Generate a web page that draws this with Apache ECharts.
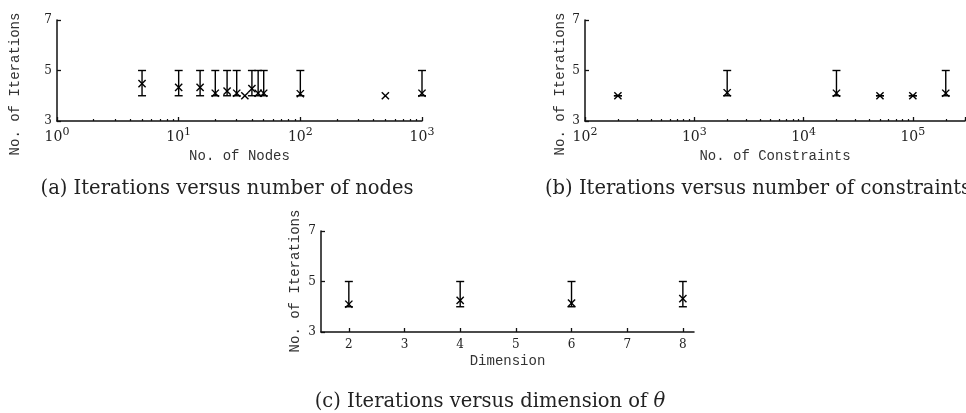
<!DOCTYPE html>
<html>
<head>
<meta charset="utf-8">
<script src="https://cdn.jsdelivr.net/npm/echarts@6/dist/echarts.min.js"></script>
<style>
html, body { margin: 0; padding: 0; background: #fff; }
#chart { width: 966px; height: 413px; }
</style>
</head>
<body>
<div id="chart"></div>
<script>
// (a) iterations vs number of nodes
var nodes     = [5, 10, 15, 20, 25, 30, 35, 40, 45, 50, 100, 500, 1000];
var nodesMean = [4.48, 4.33, 4.33, 4.1, 4.18, 4.1, 4.0, 4.28, 4.1, 4.1, 4.08, 4.0, 4.1];
var nodesLow  = [4, 4, 4, 4, 4, 4, 4, 4, 4, 4, 4, 4, 4];
var nodesHigh = [5, 5, 5, 5, 5, 5, 4, 5, 5, 5, 5, 4, 5];
// (b) iterations vs number of constraints
var constraints = [200, 2000, 20000, 50000, 100000, 200000];
var consMean    = [4.0, 4.12, 4.1, 4.0, 4.0, 4.1];
var consLow     = [4, 4, 4, 4, 4, 4];
var consHigh    = [4, 5, 5, 4, 4, 5];
// (c) iterations vs dimension of theta
var dims    = [2, 4, 6, 8];
var dimMean = [4.1, 4.25, 4.14, 4.32];
var dimLow  = [4, 4, 4, 4];
var dimHigh = [5, 5, 5, 5];
// ticks
var iterTicks = [3, 5, 7];
var dimTicks = [2, 3, 4, 5, 6, 7, 8];
var minorMult = [2, 3, 4, 5, 6, 7, 8, 9];

var serif = 'DejaVu Serif';
var mono = 'Liberation Mono';
var ink = '#111';

function minorTicks(fromExp, toExp, max) {
    var out = [];
    for (var e = fromExp; e < toExp; e++) {
        minorMult.forEach(function (m) {
            var v = m * Math.pow(10, e);
            if (v <= max) out.push(v);
        });
    }
    return out;
}

function errData(xs, mean, lo, hi) {
    return xs.map(function (x, i) { return [x, mean[i], lo[i], hi[i]]; });
}

// error bar + x marker
function errRenderer(capsOnZero) {
    return function (params, api) {
        var x = api.value(0);
        var pM = api.coord([x, api.value(1)]);
        var pLo = api.coord([x, api.value(2)]);
        var pHi = api.coord([x, api.value(3)]);
        var st = { stroke: '#000', lineWidth: 1.4 };
        var c = 4, s = 3.6;
        var kids = [];
        if (api.value(3) > api.value(2) || capsOnZero) {
            kids.push({ type: 'line', shape: { x1: pLo[0], y1: pLo[1], x2: pHi[0], y2: pHi[1] }, style: st });
            kids.push({ type: 'line', shape: { x1: pLo[0] - c, y1: pLo[1], x2: pLo[0] + c, y2: pLo[1] }, style: st });
            kids.push({ type: 'line', shape: { x1: pHi[0] - c, y1: pHi[1], x2: pHi[0] + c, y2: pHi[1] }, style: st });
        }
        kids.push({ type: 'line', shape: { x1: pM[0] - s, y1: pM[1] - s, x2: pM[0] + s, y2: pM[1] + s }, style: st });
        kids.push({ type: 'line', shape: { x1: pM[0] - s, y1: pM[1] + s, x2: pM[0] + s, y2: pM[1] - s }, style: st });
        return { type: 'group', children: kids };
    };
}

function logLabel(v) {
    var e = Math.log10(v);
    if (Math.abs(e - Math.round(e)) > 1e-6) return '';
    return '10{sup|' + Math.round(e) + '}';
}

var logRich = {
    sup: { fontSize: 11, fontFamily: serif, color: '#222', padding: [0, 0, 9, 0] }
};

function yAxisCfg(grid) {
    return {
        gridIndex: grid, type: 'value', min: 3, max: 7,
        axisLine: { show: true, lineStyle: { color: ink, width: 1.5 } },
        axisTick: { inside: true, length: 4, customValues: iterTicks, lineStyle: { color: ink, width: 1.3 } },
        axisLabel: { customValues: iterTicks, margin: 5, fontFamily: serif, fontSize: 12, color: '#222' },
        splitLine: { show: false }
    };
}

function logAxisCfg(grid, min, max, name) {
    return {
        gridIndex: grid, type: 'log', logBase: 10, min: min, max: max, position: 'bottom',
        name: name, nameLocation: 'middle', nameGap: 28,
        nameTextStyle: { fontFamily: mono, fontSize: 14, color: '#333' },
        axisLine: { show: true, lineStyle: { color: ink, width: 1.5 } },
        axisTick: { inside: true, length: 4, lineStyle: { color: ink, width: 1.3 } },
        axisLabel: {
            margin: 6, fontFamily: serif, fontSize: 14, color: '#222',
            formatter: logLabel, rich: logRich, showMinLabel: true, showMaxLabel: true
        },
        splitLine: { show: false },
        minorTick: { show: false }
    };
}

// second, invisible log axis on the same grid that only carries the minor ticks
function minorAxisCfg(grid, min, max, ticks) {
    return {
        gridIndex: grid, type: 'log', logBase: 10, min: min, max: max, position: 'bottom',
        axisLine: { show: false },
        axisLabel: { show: false },
        axisTick: { inside: true, length: 2, customValues: ticks, lineStyle: { color: ink, width: 1.2 } },
        splitLine: { show: false }
    };
}

var chart = echarts.init(document.getElementById('chart'));

var capFont = '19.5px "DejaVu Serif"';
var nameFont = '14px "Liberation Mono"';

var option = {
    backgroundColor: '#fff',
    animation: false,
    grid: [
        { left: 57, top: 20, width: 365, height: 101, containLabel: false, outerBoundsMode: 'none' },
        { left: 585, top: 20, width: 380, height: 101, containLabel: false, outerBoundsMode: 'none' },
        { left: 321, top: 231, width: 373, height: 101, containLabel: false, outerBoundsMode: 'none' }
    ],
    xAxis: [
        logAxisCfg(0, 1, 1000, 'No. of Nodes'),
        logAxisCfg(1, 100, 300000, 'No. of Constraints'),
        {
            gridIndex: 2, type: 'value', min: 1.5, max: 8.2,
            name: 'Dimension', nameLocation: 'middle', nameGap: 22,
            nameTextStyle: { fontFamily: mono, fontSize: 14, color: '#333' },
            axisLine: { show: true, lineStyle: { color: ink, width: 1.5 } },
            axisTick: { inside: true, length: 4, customValues: dimTicks, lineStyle: { color: ink, width: 1.3 } },
            axisLabel: { customValues: dimTicks, margin: 7, fontFamily: serif, fontSize: 12, color: '#222' },
            splitLine: { show: false }
        },
        minorAxisCfg(0, 1, 1000, minorTicks(0, 3, 1000)),
        minorAxisCfg(1, 100, 300000, minorTicks(2, 6, 300000))
    ],
    yAxis: [yAxisCfg(0), yAxisCfg(1), yAxisCfg(2)],
    graphic: [
        { type: 'text', x: 15, y: 84, rotation: Math.PI / 2,
          style: { text: 'No. of Iterations', font: nameFont, fill: '#333', align: 'center', verticalAlign: 'middle' } },
        { type: 'text', x: 560, y: 84, rotation: Math.PI / 2,
          style: { text: 'No. of Iterations', font: nameFont, fill: '#333', align: 'center', verticalAlign: 'middle' } },
        { type: 'text', x: 295, y: 281, rotation: Math.PI / 2,
          style: { text: 'No. of Iterations', font: nameFont, fill: '#333', align: 'center', verticalAlign: 'middle' } },
        { type: 'text', x: 227, y: 189,
          style: { text: '(a) Iterations versus number of nodes', font: capFont, fill: '#222', align: 'center', verticalAlign: 'middle' } },
        { type: 'text', x: 545, y: 189,
          style: { text: '(b) Iterations versus number of constraints', font: capFont, fill: '#222', align: 'left', verticalAlign: 'middle' } },
        { type: 'text', x: 490, y: 402,
          style: {
              text: '(c) Iterations versus dimension of {it|θ}',
              font: capFont, fill: '#222', align: 'center', verticalAlign: 'middle',
              rich: { it: { fontStyle: 'italic', fontFamily: serif, fontSize: 19.5, fill: '#222' } }
          } }
    ],
    series: [
        {
            type: 'custom', xAxisIndex: 0, yAxisIndex: 0,
            renderItem: errRenderer(false),
            encode: { x: 0, y: [1, 2, 3] },
            data: errData(nodes, nodesMean, nodesLow, nodesHigh)
        },
        {
            type: 'custom', xAxisIndex: 1, yAxisIndex: 1,
            renderItem: errRenderer(true),
            encode: { x: 0, y: [1, 2, 3] },
            data: errData(constraints, consMean, consLow, consHigh)
        },
        {
            type: 'custom', xAxisIndex: 2, yAxisIndex: 2,
            renderItem: errRenderer(true),
            encode: { x: 0, y: [1, 2, 3] },
            data: errData(dims, dimMean, dimLow, dimHigh)
        }
    ]
};

chart.setOption(option);
</script>
</body>
</html>
